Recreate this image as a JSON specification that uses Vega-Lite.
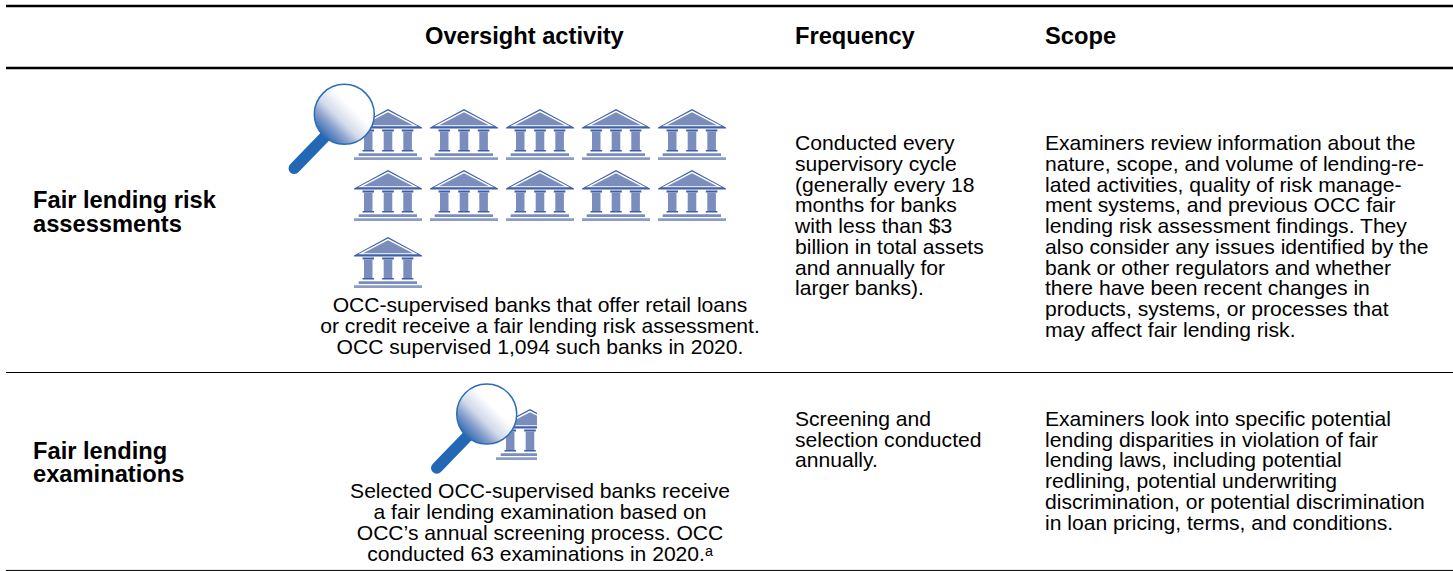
{"$schema":"https://vega.github.io/schema/vega-lite/v6.json","width":1453,"height":571,"padding":0,"autosize":{"type":"fit","contains":"padding"},"background":"#ffffff","view":{"stroke":null},
"datasets":{
"banks":[{"slot":1,"row":6.487},{"slot":2,"row":6.487},{"slot":3,"row":6.487},{"slot":4,"row":6.487},{"slot":5,"row":6.487},{"slot":1,"row":9.427},{"slot":2,"row":9.427},{"slot":3,"row":9.427},{"slot":4,"row":9.427},{"slot":5,"row":9.427},{"slot":1,"row":12.655}],
"cropped":[{"slot":2.868,"row":20.94}],
"glass":[{"slot":0.425,"row":5.51},{"slot":2.299,"row":19.95}],
"heavy":[{"line":0.289,"from":0,"to":1},{"line":3.277,"from":0,"to":1}],
"thin":[{"line":17.952,"from":0,"to":1},{"line":27.49,"from":0,"to":1}],
"header":[{"col":2,"line":2.12,"text":"Oversight activity"},{"col":3,"line":2.12,"text":"Frequency"},{"col":4,"line":2.12,"text":"Scope"}],
"labels":[{"col":1,"line":10.026,"text":"Fair lending risk"},{"col":1,"line":11.18,"text":"assessments"},{"col":1,"line":22.12,"text":"Fair lending"},{"col":1,"line":23.23,"text":"examinations"}],
"body":[
{"col":3,"line":7.23,"text":"Conducted every"},{"col":3,"line":8.23,"text":"supervisory cycle"},{"col":3,"line":9.23,"text":"(generally every 18"},{"col":3,"line":10.23,"text":"months for banks"},{"col":3,"line":11.23,"text":"with less than $3"},{"col":3,"line":12.23,"text":"billion in total assets"},{"col":3,"line":13.23,"text":"and annually for"},{"col":3,"line":14.23,"text":"larger banks)."},
{"col":4,"line":7.23,"text":"Examiners review information about the"},{"col":4,"line":8.23,"text":"nature, scope, and volume of lending-re-"},{"col":4,"line":9.23,"text":"lated activities, quality of risk manage-"},{"col":4,"line":10.23,"text":"ment systems, and previous OCC fair"},{"col":4,"line":11.23,"text":"lending risk assessment findings. They"},{"col":4,"line":12.23,"text":"also consider any issues identified by the"},{"col":4,"line":13.23,"text":"bank or other regulators and whether"},{"col":4,"line":14.23,"text":"there have been recent changes in"},{"col":4,"line":15.23,"text":"products, systems, or processes that"},{"col":4,"line":16.23,"text":"may affect fair lending risk."},
{"col":3,"line":20.53,"text":"Screening and"},{"col":3,"line":21.53,"text":"selection conducted"},{"col":3,"line":22.53,"text":"annually."},
{"col":4,"line":20.53,"text":"Examiners look into specific potential"},{"col":4,"line":21.53,"text":"lending disparities in violation of fair"},{"col":4,"line":22.53,"text":"lending laws, including potential"},{"col":4,"line":23.53,"text":"redlining, potential underwriting"},{"col":4,"line":24.53,"text":"discrimination, or potential discrimination"},{"col":4,"line":25.53,"text":"in loan pricing, terms, and conditions."}],
"activity":[
{"slot":3,"line":15.04,"text":"OCC-supervised banks that offer retail loans"},{"slot":3,"line":16.05,"text":"or credit receive a fair lending risk assessment."},{"slot":3,"line":17.06,"text":"OCC supervised 1,094 such banks in 2020."},
{"slot":3,"line":24,"text":"Selected OCC-supervised banks receive"},{"slot":3,"line":25.01,"text":"a fair lending examination based on"},{"slot":3,"line":26.03,"text":"OCC’s annual screening process. OCC"},{"slot":3,"line":27.04,"text":"conducted 63 examinations in 2020.ᵃ"}]
},
"resolve":{"scale":{"x":"independent"}},
"layer":[
{"data":{"name":"heavy"},"mark":{"type":"rule","color":"#000000","strokeWidth":2.5},"encoding":{"x":{"field":"from","type":"quantitative","axis":null,"scale":{"domain":[0,1],"range":[6,1453]}},"x2":{"field":"to"},"y":{"field":"line","type":"quantitative","axis":null,"scale":{"domain":[0,27.518],"reverse":true,"nice":false,"zero":false}}}},
{"data":{"name":"thin"},"mark":{"type":"rule","color":"#000000","strokeWidth":1},"encoding":{"x":{"field":"from","type":"quantitative","axis":null,"scale":{"domain":[0,1],"range":[6,1453]}},"x2":{"field":"to"},"y":{"field":"line","type":"quantitative","axis":null}}},
{"data":{"name":"header"},"mark":{"type":"text","font":"Liberation Sans","fontSize":23.7,"fontWeight":"bold","align":"left","baseline":"alphabetic","color":"#000000"},"encoding":{"x":{"field":"col","type":"quantitative","axis":null,"scale":{"domain":[1,2,3,4],"range":[33,425,795,1045],"zero":false,"nice":false}},"y":{"field":"line","type":"quantitative","axis":null},"text":{"field":"text"}}},
{"data":{"name":"labels"},"mark":{"type":"text","font":"Liberation Sans","fontSize":23.7,"fontWeight":"bold","align":"left","baseline":"alphabetic","color":"#000000"},"encoding":{"x":{"field":"col","type":"quantitative","axis":null,"scale":{"domain":[1,2,3,4],"range":[33,425,795,1045],"zero":false,"nice":false}},"y":{"field":"line","type":"quantitative","axis":null},"text":{"field":"text"}}},
{"data":{"name":"body"},"mark":{"type":"text","font":"Liberation Sans","fontSize":21.1,"align":"left","baseline":"alphabetic","color":"#000000"},"encoding":{"x":{"field":"col","type":"quantitative","axis":null,"scale":{"domain":[1,2,3,4],"range":[33,425,795,1045],"zero":false,"nice":false}},"y":{"field":"line","type":"quantitative","axis":null},"text":{"field":"text"}}},
{"data":{"name":"activity"},"mark":{"type":"text","font":"Liberation Sans","fontSize":21.1,"align":"center","baseline":"alphabetic","color":"#000000"},"encoding":{"x":{"field":"slot","type":"quantitative","axis":null,"scale":{"domain":[1,5],"range":[388,692],"zero":false,"nice":false}},"y":{"field":"line","type":"quantitative","axis":null},"text":{"field":"text"}}},
{"data":{"name":"banks"},"mark":{"type":"point","filled":true,"opacity":1,"strokeWidth":0,"size":4,"fill":"#3f5fa8","shape":"M-34,-6 L-34,-7.2 L0,-25.6 L34,-7.2 L34,-6 Z M-25.5,-5.1 H-14 V-3.1 H-25.5 Z M-5.8,-5.1 H5.8 V-3.1 H-5.8 Z M13.8,-5.1 H25.4 V-3.1 H13.8 Z M-25.5,15.4 H-14 V17 H-25.5 Z M-5.8,15.4 H5.8 V17 H-5.8 Z M13.8,15.4 H25.4 V17 H13.8 Z"},"encoding":{"x":{"field":"slot","type":"quantitative","axis":null,"scale":{"domain":[1,5],"range":[388,692],"zero":false,"nice":false}},"y":{"field":"row","type":"quantitative","axis":null}}},
{"data":{"name":"banks"},"mark":{"type":"point","filled":true,"opacity":1,"strokeWidth":0,"size":4,"fill":"#ffffff","shape":"M-30,-8.3 L0,-24 L30,-8.3 Z"},"encoding":{"x":{"field":"slot","type":"quantitative","axis":null,"scale":{"domain":[1,5],"range":[388,692],"zero":false,"nice":false}},"y":{"field":"row","type":"quantitative","axis":null}}},
{"data":{"name":"banks"},"mark":{"type":"point","filled":true,"opacity":1,"strokeWidth":0,"size":4,"fill":"#7a8dbd","shape":"M-25,-9.3 L0,-22.3 L25,-9.3 Z M-24,-3.1 H-15.5 V15.4 H-24 Z M-4.3,-3.1 H4.3 V15.4 H-4.3 Z M15.3,-3.1 H23.9 V15.4 H15.3 Z M-29.3,18.7 H29 V21.4 H-29.3 Z"},"encoding":{"x":{"field":"slot","type":"quantitative","axis":null,"scale":{"domain":[1,5],"range":[388,692],"zero":false,"nice":false}},"y":{"field":"row","type":"quantitative","axis":null}}},
{"data":{"name":"banks"},"mark":{"type":"point","filled":true,"opacity":1,"strokeWidth":0,"size":4,"fill":"#8c9cc8","shape":"M-34,22.7 H34 V25.4 H-34 Z"},"encoding":{"x":{"field":"slot","type":"quantitative","axis":null,"scale":{"domain":[1,5],"range":[388,692],"zero":false,"nice":false}},"y":{"field":"row","type":"quantitative","axis":null}}},
{"data":{"name":"cropped"},"mark":{"type":"point","filled":true,"opacity":1,"strokeWidth":0,"size":4,"fill":"#3f5fa8","shape":"M-34,-6 L-34,-7.2 L0,-25.6 L7,-21.8 L7,-6 Z M-25.5,-5.1 H-14 V-3.1 H-25.5 Z M-5.8,-5.1 H5.8 V-3.1 H-5.8 Z M-25.5,15.4 H-14 V17 H-25.5 Z M-5.8,15.4 H5.8 V17 H-5.8 Z"},"encoding":{"x":{"field":"slot","type":"quantitative","axis":null,"scale":{"domain":[1,5],"range":[388,692],"zero":false,"nice":false}},"y":{"field":"row","type":"quantitative","axis":null}}},
{"data":{"name":"cropped"},"mark":{"type":"point","filled":true,"opacity":1,"strokeWidth":0,"size":4,"fill":"#ffffff","shape":"M-30,-8.3 L0,-24 L7,-20.3 L7,-8.3 Z"},"encoding":{"x":{"field":"slot","type":"quantitative","axis":null,"scale":{"domain":[1,5],"range":[388,692],"zero":false,"nice":false}},"y":{"field":"row","type":"quantitative","axis":null}}},
{"data":{"name":"cropped"},"mark":{"type":"point","filled":true,"opacity":1,"strokeWidth":0,"size":4,"fill":"#7a8dbd","shape":"M-25,-9.3 L0,-22.3 L7,-18.7 L7,-9.3 Z M-24,-3.1 H-15.5 V15.4 H-24 Z M-29.3,18.7 H7 V21.4 H-29.3 Z M-4.3,-3.1 H4.3 V15.4 H-4.3 Z"},"encoding":{"x":{"field":"slot","type":"quantitative","axis":null,"scale":{"domain":[1,5],"range":[388,692],"zero":false,"nice":false}},"y":{"field":"row","type":"quantitative","axis":null}}},
{"data":{"name":"cropped"},"mark":{"type":"point","filled":true,"opacity":1,"strokeWidth":0,"size":4,"fill":"#8c9cc8","shape":"M-34,22.7 H7 V25.4 H-34 Z"},"encoding":{"x":{"field":"slot","type":"quantitative","axis":null,"scale":{"domain":[1,5],"range":[388,692],"zero":false,"nice":false}},"y":{"field":"row","type":"quantitative","axis":null}}},
{"data":{"name":"glass"},"mark":{"type":"point","filled":false,"opacity":1,"size":4,"stroke":"#2268b5","strokeWidth":11.5,"strokeCap":"round","shape":"M-19,22 L-50,54"},"encoding":{"x":{"field":"slot","type":"quantitative","axis":null,"scale":{"domain":[1,5],"range":[388,692],"zero":false,"nice":false}},"y":{"field":"row","type":"quantitative","axis":null}}},
{"data":{"name":"glass"},"mark":{"type":"point","filled":true,"opacity":1,"size":3600,"shape":"circle","stroke":"#2b6db6","strokeWidth":1.5,"fill":{"gradient":"linear","x1":0,"y1":1,"x2":1,"y2":0,"stops":[{"offset":0.12,"color":"#2263ae"},{"offset":0.3,"color":"#8ba2cd"},{"offset":0.42,"color":"#d2daea"},{"offset":0.62,"color":"#ffffff"},{"offset":1,"color":"#ffffff"}]}},"encoding":{"x":{"field":"slot","type":"quantitative","axis":null,"scale":{"domain":[1,5],"range":[388,692],"zero":false,"nice":false}},"y":{"field":"row","type":"quantitative","axis":null}}}
]}
